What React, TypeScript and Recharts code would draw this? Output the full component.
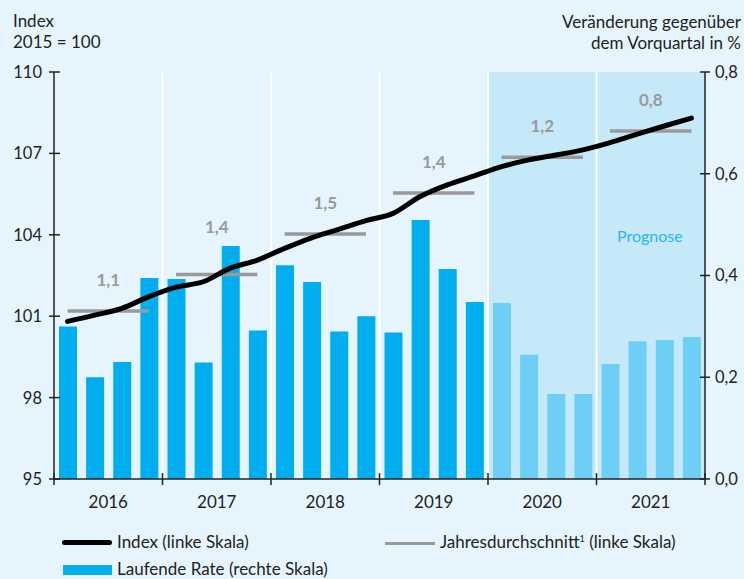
import React from 'react';
import {
  ComposedChart,
  Bar,
  Line,
  Scatter,
  XAxis,
  YAxis,
  Cell,
  ReferenceArea,
  ReferenceLine,
} from 'recharts';

const years = ['2016', '2017', '2018', '2019', '2020', '2021'];
const quarters = ['Q1', 'Q2', 'Q3', 'Q4'];

// Index, 2015 = 100 (left scale)
const indexValues = [
  100.81, 101.04, 101.29, 101.72,
  102.07, 102.27, 102.77, 103.07,
  103.5, 103.89, 104.2, 104.52,
  104.79, 105.41, 105.84, 106.17,
  106.51, 106.76, 106.94, 107.13,
  107.4, 107.71, 108.01, 108.3,
];

// change against previous quarter in % (right scale)
const rateValues = [
  0.3, 0.2, 0.23, 0.395,
  0.393, 0.229, 0.458, 0.292,
  0.42, 0.387, 0.29, 0.32,
  0.288, 0.509, 0.413, 0.348,
  0.346, 0.244, 0.167, 0.167,
  0.226, 0.271, 0.273, 0.279,
];

// annual average of the index (left scale) and yearly change label
const yearAvg = [101.19, 102.54, 104.03, 105.54, 106.86, 107.83];
const yearChange = ['1,1', '1,4', '1,5', '1,4', '1,2', '0,8'];

const forecastFrom = 4; // year index where the forecast starts

const BG = '#e6f5fd';
const FORECAST_BG = '#c6e9f9';
const BAR = '#00aeef';
const BAR_FC = '#6dcff6';
const AVG = '#999999';
const INK = '#222222';
const FONT = 'Lato, "Noto Sans", sans-serif';

const data = indexValues.map((v, i) => {
  const y = Math.floor(i / 4);
  return {
    q: `${years[y]}${quarters[i % 4]}`,
    index: v,
    rate: rateValues[i],
    avgA: y % 2 === 0 ? yearAvg[y] : null,
    avgB: y % 2 === 1 ? yearAvg[y] : null,
    forecast: y >= forecastFrom,
  };
});

const avgLabels = yearAvg.map((v, y) => ({ xc: y * 4 + 2, avg: v, label: yearChange[y], year: years[y] }));

const LeftTick = (props: any) => {
  const { x, y, payload } = props;
  return (
    <g>
      <line x1={x - 5} x2={x + 6} y1={y} y2={y} stroke={INK} strokeWidth={1.5} />
      <text x={x - 12} y={y} dy="0.36em" textAnchor="end" fontSize={16.5} fill={INK} fontFamily={FONT}>
        {payload.value}
      </text>
    </g>
  );
};

const RightTick = (props: any) => {
  const { x, y, payload } = props;
  return (
    <g>
      <line x1={x - 5} x2={x + 5} y1={y} y2={y} stroke={INK} strokeWidth={1.5} />
      <text x={x + 10} y={y} dy="0.36em" textAnchor="start" fontSize={16.5} fill={INK} fontFamily={FONT}>
        {payload.value.toFixed(1).replace('.', ',')}
      </text>
    </g>
  );
};

const YearTick = (props: any) => {
  const { x, y, payload } = props;
  const v = payload.value;
  if (v % 4 === 0) {
    return <line x1={x} x2={x} y1={y - 6} y2={y + 6} stroke={INK} strokeWidth={1.5} />;
  }
  return (
    <text x={x} y={y + 29} textAnchor="middle" fontSize={17} fill={INK} fontFamily={FONT}>
      {years[(v - 2) / 4]}
    </text>
  );
};

const AvgLabel = (props: any) => {
  const { cx, cy, payload } = props;
  const lift = payload.year === '2017' ? 41 : 25;
  return (
    <text x={cx} y={cy - lift} textAnchor="middle" fontSize={17} fontWeight={700} fill={AVG} fontFamily={FONT}>
      {payload.label}
    </text>
  );
};

export default function App() {
  const ticksX = Array.from({ length: 13 }, (_, i) => i * 2);
  return (
    <div style={{ position: 'absolute', left: 0, top: 0, width: 744, height: 579, background: BG, fontFamily: FONT, color: INK }}>
      <div style={{ position: 'absolute', left: 13, top: 10, fontSize: 17, lineHeight: '21px' }}>
        Index
        <br />
        2015 = 100
      </div>
      <div style={{ position: 'absolute', right: 3, top: 11, fontSize: 17, lineHeight: '21px', textAlign: 'right' }}>
        Veränderung gegenüber
        <br />
        dem Vorquartal in %
      </div>

      <ComposedChart
        width={744}
        height={579}
        data={data}
        margin={{ top: 72, right: 0, left: 0, bottom: 70 }}
        style={{ position: 'absolute', left: 0, top: 0 }}
      >
        <XAxis
          xAxisId="num"
          dataKey="xc"
          type="number"
          domain={[0, 24]}
          ticks={ticksX}
          interval={0}
          height={30}
          tickLine={false}
          tickSize={0}
          tickMargin={0}
          axisLine={{ stroke: INK, strokeWidth: 1.5 }}
          tick={<YearTick />}
          allowDataOverflow
        />
        <XAxis xAxisId="cat" dataKey="q" hide height={0} />
        <YAxis
          yAxisId="left"
          domain={[95, 110]}
          ticks={[95, 98, 101, 104, 107, 110]}
          width={54}
          tickLine={false}
          tickSize={0}
          tickMargin={0}
          axisLine={{ stroke: INK, strokeWidth: 1.5 }}
          tick={<LeftTick />}
          allowDataOverflow
        />
        <YAxis
          yAxisId="right"
          orientation="right"
          domain={[0, 0.8]}
          ticks={[0, 0.2, 0.4, 0.6, 0.8]}
          width={39}
          tickLine={false}
          tickSize={0}
          tickMargin={0}
          axisLine={{ stroke: INK, strokeWidth: 1.5 }}
          tick={<RightTick />}
          allowDataOverflow
        />

        <ReferenceArea
          xAxisId="num"
          yAxisId="left"
          x1={forecastFrom * 4}
          x2={24}
          fill={FORECAST_BG}
          fillOpacity={1}
          stroke="none"
        />
        {[4, 8, 12, 16, 20].map((v) => (
          <ReferenceLine key={v} xAxisId="num" yAxisId="left" x={v} stroke="#ffffff" strokeWidth={2} />
        ))}

        <Bar xAxisId="cat" yAxisId="right" dataKey="rate" barSize={18} isAnimationActive={false}>
          {data.map((d, i) => (
            <Cell key={i} fill={d.forecast ? BAR_FC : BAR} />
          ))}
        </Bar>
        <Line
          xAxisId="cat"
          yAxisId="left"
          dataKey="avgA"
          stroke={AVG}
          strokeWidth={3.5}
          dot={false}
          connectNulls={false}
          isAnimationActive={false}
        />
        <Line
          xAxisId="cat"
          yAxisId="left"
          dataKey="avgB"
          stroke={AVG}
          strokeWidth={3.5}
          dot={false}
          connectNulls={false}
          isAnimationActive={false}
        />
        <Line
          xAxisId="cat"
          yAxisId="left"
          dataKey="index"
          type="monotone"
          stroke="#000000"
          strokeWidth={5}
          strokeLinecap="round"
          dot={false}
          isAnimationActive={false}
        />
        <Scatter
          xAxisId="num"
          yAxisId="left"
          data={avgLabels}
          dataKey="avg"
          shape={<AvgLabel />}
          isAnimationActive={false}
        />
      </ComposedChart>

      <div style={{ position: 'absolute', left: 617, top: 226, fontSize: 16, color: '#29b6ec' }}>Prognose</div>

      <div style={{ position: 'absolute', left: 0, top: 532, width: 744, fontSize: 17, lineHeight: '20px' }}>
        <div style={{ position: 'absolute', left: 62, top: 8, width: 50, height: 5, background: '#000', borderRadius: 3 }} />
        <div style={{ position: 'absolute', left: 117, top: 0 }}>Index (linke Skala)</div>
        <div style={{ position: 'absolute', left: 385, top: 10, width: 50, height: 3, background: AVG }} />
        <div style={{ position: 'absolute', left: 440, top: 0 }}>
          Jahresdurchschnitt<sup style={{ fontSize: 9, verticalAlign: 'top', lineHeight: '14px' }}>1</sup> (linke Skala)
        </div>
        <div style={{ position: 'absolute', left: 63, top: 33, width: 49, height: 10, background: BAR }} />
        <div style={{ position: 'absolute', left: 117, top: 27 }}>Laufende Rate (rechte Skala)</div>
      </div>
    </div>
  );
}
